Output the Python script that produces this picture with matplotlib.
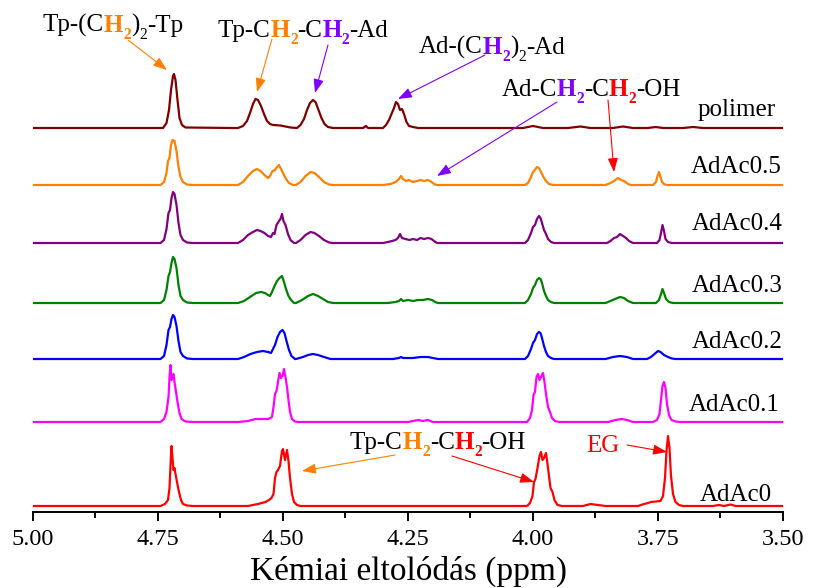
import matplotlib
matplotlib.use('Agg')
import matplotlib.pyplot as plt
from matplotlib.transforms import offset_copy
from matplotlib.ticker import MultipleLocator, FormatStrFormatter

plt.rcParams['font.family'] = ['Liberation Serif', 'DejaVu Serif']

# ---------------- data: (ppm, intensity) ----------------
polimer = [(5.00, 0), (4.760, 0), (4.740, 0), (4.733, 5), (4.728, 18), (4.724, 38), (4.720, 52), (4.718, 54),
           (4.715, 48), (4.711, 28), (4.707, 10), (4.702, 3), (4.695, 0.5), (4.600, 0),
           (4.590, 0), (4.580, 2), (4.572, 7), (4.566, 15), (4.560, 24), (4.555, 29), (4.550, 28), (4.544, 22),
           (4.538, 14), (4.532, 7), (4.526, 4), (4.520, 3), (4.505, 2.5), (4.495, 1.5), (4.485, 0.5),
           (4.472, 0), (4.465, 3), (4.458, 9), (4.452, 18), (4.446, 25), (4.440, 28), (4.435, 26), (4.429, 18),
           (4.423, 10), (4.417, 4), (4.410, 1), (4.400, 0),
           (4.340, 0), (4.334, 2), (4.330, 0),
           (4.300, 0), (4.294, 3), (4.288, 8), (4.283, 14), (4.278, 20), (4.274, 26), (4.270, 24), (4.266, 18),
           (4.262, 19), (4.258, 14), (4.253, 6), (4.248, 2), (4.240, 1), (4.230, 0),
           (4.020, 0), (4.000, 2), (3.980, 0), (3.930, 0), (3.905, 1.5), (3.885, 0), (3.840, 0), (3.820, 1.5),
           (3.800, 0), (3.770, 0), (3.755, 1), (3.740, 0), (3.700, 0), (3.680, 1), (3.660, 0), (3.500, 0)]

adac05 = [(5.00, 0), (4.745, 0), (4.738, 3), (4.733, 12), (4.730, 24), (4.727, 27), (4.724, 40), (4.721, 45),
          (4.717, 44), (4.713, 34), (4.709, 18), (4.705, 8), (4.700, 3), (4.692, 0.5), (4.680, 0),
          (4.590, 0), (4.580, 3), (4.570, 9), (4.560, 14), (4.552, 16), (4.545, 14), (4.537, 10), (4.530, 7),
          (4.526, 9), (4.521, 14), (4.516, 15), (4.512, 18), (4.508, 20), (4.505, 17), (4.500, 12), (4.494, 6),
          (4.488, 2), (4.480, 0),
          (4.474, 0), (4.465, 3), (4.455, 9), (4.445, 13), (4.437, 12), (4.428, 8), (4.418, 3), (4.408, 0.5),
          (4.400, 0),
          (4.300, 0), (4.285, 1), (4.275, 3), (4.268, 6), (4.264, 9), (4.260, 6), (4.254, 4), (4.248, 5),
          (4.240, 3), (4.232, 4), (4.225, 5), (4.218, 4), (4.210, 5), (4.203, 3), (4.198, 1), (4.192, 0),
          (4.016, 0), (4.010, 2), (4.005, 7), (4.000, 13), (3.995, 16), (3.992, 18), (3.988, 17), (3.984, 13),
          (3.979, 8), (3.974, 4), (3.968, 1), (3.960, 0),
          (3.855, 0), (3.845, 2), (3.838, 4), (3.830, 7), (3.824, 5), (3.818, 4), (3.810, 1), (3.804, 0),
          (3.760, 0), (3.754, 3), (3.751, 9), (3.748, 13), (3.745, 8), (3.742, 3), (3.737, 0.5), (3.730, 0),
          (3.500, 0)]

adac04 = [(5.00, 0), (4.745, 0), (4.738, 3), (4.733, 14), (4.729, 30), (4.726, 33), (4.723, 45), (4.720, 51),
          (4.717, 49), (4.713, 38), (4.709, 20), (4.705, 8), (4.700, 3), (4.692, 0.5), (4.680, 0),
          (4.590, 0), (4.580, 3), (4.570, 8), (4.560, 11), (4.552, 13), (4.545, 12), (4.537, 10), (4.530, 7),
          (4.524, 6), (4.520, 10), (4.517, 9), (4.513, 18), (4.508, 22), (4.505, 24), (4.502, 29), (4.499, 22),
          (4.495, 18), (4.490, 9), (4.485, 3), (4.478, 0),
          (4.474, 0), (4.465, 3), (4.455, 8), (4.445, 11), (4.437, 10), (4.428, 7), (4.418, 3), (4.408, 0.5),
          (4.400, 0),
          (4.300, 0), (4.290, 1), (4.282, 2), (4.275, 3), (4.270, 5), (4.266, 9), (4.262, 5), (4.255, 4),
          (4.247, 3), (4.240, 4), (4.232, 3), (4.225, 5), (4.218, 4), (4.210, 5), (4.203, 4), (4.198, 2),
          (4.192, 0),
          (4.016, 0), (4.010, 3), (4.004, 10), (4.000, 16), (3.996, 18), (3.992, 24), (3.988, 27), (3.985, 25),
          (3.982, 20), (3.978, 13), (3.974, 9), (3.970, 4), (3.964, 1), (3.958, 0),
          (3.852, 0), (3.845, 2), (3.838, 5), (3.832, 6), (3.826, 9), (3.820, 7), (3.814, 5), (3.808, 2),
          (3.800, 0),
          (3.752, 0), (3.747, 3), (3.744, 10), (3.741, 18), (3.738, 12), (3.735, 4), (3.730, 1), (3.722, 0),
          (3.500, 0)]

adac03 = [(5.00, 0), (4.745, 0), (4.738, 3), (4.733, 13), (4.729, 27), (4.726, 31), (4.723, 40), (4.720, 46),
          (4.717, 44), (4.713, 35), (4.709, 18), (4.705, 7), (4.700, 3), (4.692, 0.5), (4.680, 0),
          (4.590, 0), (4.578, 2), (4.566, 6), (4.554, 10), (4.544, 11), (4.536, 10), (4.530, 8), (4.526, 7),
          (4.522, 11), (4.517, 17), (4.512, 22), (4.507, 25), (4.502, 27), (4.498, 21), (4.494, 14), (4.489, 7),
          (4.484, 3), (4.478, 0),
          (4.474, 0), (4.462, 3), (4.450, 7), (4.440, 9), (4.430, 7), (4.420, 4), (4.410, 1), (4.400, 0),
          (4.290, 0), (4.275, 1), (4.268, 2), (4.264, 4), (4.260, 2), (4.250, 3), (4.240, 2), (4.230, 3),
          (4.220, 3), (4.210, 4), (4.202, 3), (4.196, 1), (4.190, 0),
          (4.016, 0), (4.010, 3), (4.004, 9), (4.000, 15), (3.996, 18), (3.992, 23), (3.988, 25), (3.985, 24),
          (3.982, 20), (3.978, 12), (3.974, 7), (3.970, 3), (3.964, 1), (3.958, 0),
          (3.855, 0), (3.845, 2), (3.836, 4), (3.826, 6), (3.818, 5), (3.810, 2), (3.800, 0),
          (3.754, 0), (3.748, 3), (3.744, 9), (3.741, 14), (3.738, 10), (3.734, 4), (3.728, 1), (3.720, 0),
          (3.500, 0)]

adac02 = [(5.00, 0), (4.745, 0), (4.738, 3), (4.733, 14), (4.729, 29), (4.726, 32), (4.723, 40), (4.720, 44),
          (4.717, 42), (4.713, 33), (4.709, 18), (4.705, 7), (4.700, 3), (4.692, 0.5), (4.680, 0),
          (4.590, 0), (4.578, 2), (4.565, 5), (4.552, 7), (4.540, 8), (4.530, 7), (4.524, 6), (4.520, 10),
          (4.516, 14), (4.511, 22), (4.506, 27), (4.501, 29), (4.497, 26), (4.493, 18), (4.488, 9), (4.483, 3),
          (4.476, 0),
          (4.474, 0), (4.460, 2), (4.450, 4), (4.440, 5), (4.430, 4), (4.418, 2), (4.405, 0),
          (4.280, 0), (4.268, 1), (4.264, 2), (4.260, 1), (4.240, 1), (4.225, 2), (4.210, 2), (4.200, 1),
          (4.190, 0),
          (4.016, 0), (4.010, 3), (4.004, 10), (4.000, 16), (3.996, 19), (3.992, 25), (3.988, 27), (3.985, 26),
          (3.982, 21), (3.978, 13), (3.974, 7), (3.970, 3), (3.964, 1), (3.958, 0),
          (3.855, 0), (3.840, 2), (3.826, 3), (3.812, 2), (3.800, 0),
          (3.772, 0), (3.764, 2), (3.757, 5), (3.750, 8), (3.745, 7), (3.738, 4), (3.730, 2), (3.722, 0.5),
          (3.715, 0), (3.500, 0)]

adac01 = [(5.00, 0), (4.745, 0), (4.738, 3), (4.733, 10), (4.729, 25), (4.727, 45), (4.725, 57), (4.723, 42),
          (4.721, 46), (4.719, 48), (4.717, 40), (4.714, 30), (4.711, 20), (4.707, 9), (4.703, 3), (4.695, 0.5),
          (4.680, 0),
          (4.590, 0), (4.570, 1), (4.555, 3), (4.540, 3), (4.530, 3), (4.525, 4), (4.522, 5), (4.519, 15),
          (4.516, 28), (4.513, 31), (4.510, 40), (4.507, 49), (4.504, 44), (4.501, 46), (4.498, 53), (4.495, 45),
          (4.492, 35), (4.489, 22), (4.486, 10), (4.482, 3), (4.476, 0.5), (4.470, 0),
          (4.250, 0), (4.240, 1), (4.230, 2), (4.220, 1), (4.210, 2), (4.200, 0),
          (4.012, 0), (4.006, 4), (4.002, 12), (3.999, 27), (3.996, 30), (3.993, 45), (3.990, 48), (3.987, 42),
          (3.984, 45), (3.980, 49), (3.977, 40), (3.974, 28), (3.970, 15), (3.966, 10), (3.962, 4), (3.956, 1),
          (3.948, 0),
          (3.850, 0), (3.835, 2), (3.822, 3), (3.812, 2), (3.800, 0),
          (3.760, 0), (3.752, 2), (3.747, 8), (3.744, 22), (3.741, 36), (3.738, 40), (3.735, 34), (3.732, 18),
          (3.728, 7), (3.723, 2), (3.715, 0.5), (3.705, 0), (3.500, 0)]

adac0 = [(5.00, 0), (4.745, 0), (4.736, 2), (4.730, 6), (4.727, 18), (4.725, 40), (4.723, 60), (4.721, 48),
         (4.719, 36), (4.717, 38), (4.715, 32), (4.712, 24), (4.708, 14), (4.704, 6), (4.700, 2), (4.692, 0.5),
         (4.680, 0),
         (4.570, 0), (4.550, 2), (4.535, 4), (4.528, 6), (4.523, 8), (4.519, 12), (4.516, 28), (4.513, 34),
         (4.510, 36), (4.506, 40), (4.502, 55), (4.500, 57), (4.496, 46), (4.492, 56), (4.489, 45), (4.486, 28),
         (4.482, 12), (4.478, 4), (4.472, 1), (4.465, 0),
         (4.012, 0), (4.006, 3), (4.001, 10), (3.998, 24), (3.995, 27), (3.991, 38), (3.987, 50), (3.984, 54),
         (3.981, 46), (3.978, 48), (3.974, 53), (3.971, 42), (3.968, 30), (3.965, 18), (3.961, 14), (3.957, 6),
         (3.951, 1), (3.942, 0),
         (3.900, 0), (3.885, 2), (3.870, 1), (3.855, 0),
         (3.790, 0), (3.778, 2), (3.770, 3), (3.764, 4), (3.745, 5), (3.740, 10), (3.736, 28), (3.733, 55),
         (3.730, 70), (3.727, 58), (3.724, 30), (3.720, 12), (3.715, 4), (3.708, 1), (3.700, 0),
         (3.640, 0), (3.628, 1), (3.618, 0), (3.605, 1.5), (3.595, 0), (3.500, 0)]

spectra = [polimer, adac05, adac04, adac03, adac02, adac01, adac0]
names = ['polimer', 'AdAc0.5', 'AdAc0.4', 'AdAc0.3', 'AdAc0.2', 'AdAc0.1', 'AdAc0']
colors = ['#800000', '#FF8000', '#800080', '#008000', '#0000FF', '#FF00FF', '#FF0000']
offsets = [384, 327, 269, 209, 153, 90, 6]
label_x = [3.514, 3.502, 3.500, 3.500, 3.500, 3.506, 3.522]
label_y = [396, 339, 282, 220, 164, 101, 11]

xticks = [5.00, 4.75, 4.50, 4.25, 4.00, 3.75, 3.50]
xlabel = 'Kémiai eltolódás (ppm)'

ORANGE = '#FF8000'
VIOLET = '#8000FF'
RED = '#FF0000'
K = 'black'

# annotation texts: pieces (text, colour, bold, subscript), centre x (ppm), baseline level
ann_texts = [
    ([('Tp-(C', K, 0, 0), ('H', ORANGE, 1, 0), ('2', ORANGE, 1, 1), (')', K, 0, 0), ('2', K, 0, 1),
      ('-Tp', K, 0, 0)], (4.840, 480)),
    ([('Tp-C', K, 0, 0), ('H', ORANGE, 1, 0), ('2', ORANGE, 1, 1), ('-C', K, 0, 0), ('H', VIOLET, 1, 0),
      ('2', VIOLET, 1, 1), ('-Ad', K, 0, 0)], (4.460, 475)),
    ([('Ad-(C', K, 0, 0), ('H', VIOLET, 1, 0), ('2', VIOLET, 1, 1), (')', K, 0, 0), ('2', K, 0, 1),
      ('-Ad', K, 0, 0)], (4.082, 458)),
    ([('Ad-C', K, 0, 0), ('H', VIOLET, 1, 0), ('2', VIOLET, 1, 1), ('-C', K, 0, 0), ('H', RED, 1, 0),
      ('2', RED, 1, 1), ('-OH', K, 0, 0)], (3.884, 416)),
    ([('Tp-C', K, 0, 0), ('H', ORANGE, 1, 0), ('2', ORANGE, 1, 1), ('-C', K, 0, 0), ('H', RED, 1, 0),
      ('2', RED, 1, 1), ('-OH', K, 0, 0)], (4.190, 63)),
    ([('EG', RED, 0, 0)], (3.860, 60)),
]
# arrows: start (ppm, level), end (ppm, level), colour
arrows = [
    ((4.810, 472), (4.732, 442), ORANGE),
    ((4.522, 473), (4.552, 420), ORANGE),
    ((4.410, 467), (4.436, 419), VIOLET),
    ((4.096, 457), (4.270, 413), VIOLET),
    ((3.952, 410), (4.192, 336), VIOLET),
    ((3.850, 412), (3.838, 340), RED),
    ((4.276, 57), (4.462, 41), ORANGE),
    ((4.162, 56), (3.998, 30), RED),
    ((3.812, 67), (3.732, 60), RED),
]

# ---------------- figure ----------------
fig = plt.figure(figsize=(8.13, 5.88), dpi=100)
ax = fig.add_axes([33 / 813, 76 / 588, 750 / 813, 512 / 588])
renderer = fig.canvas.get_renderer()

FS = 18
SUB_SCALE = 0.62
SUB_DROP = 7  # pixels

for spec, name, col, off, lx, ly in zip(spectra, names, colors, offsets, label_x, label_y):
    ppm = [p for p, _ in spec]
    val = [v + off for _, v in spec]
    ax.plot(ppm, val, color=col, lw=1.6, solid_joinstyle='round')
    ax.text(lx, ly, name, ha='right', va='baseline', fontsize=FS, color='black')


def rich_text(pieces, x, y):
    arts, widths = [], []
    for txt, col, bold, sub in pieces:
        t = ax.text(x, y, txt, fontsize=FS * SUB_SCALE if sub else FS, color=col,
                    fontweight='bold' if bold else 'normal', ha='left', va='baseline')
        arts.append((t, sub))
        widths.append(t.get_window_extent(renderer).width)
    dx = -sum(widths) / 2
    for (t, sub), w in zip(arts, widths):
        t.set_transform(offset_copy(ax.transData, fig=fig, x=dx, y=-SUB_DROP if sub else 0, units='dots'))
        dx += w


for pieces, (x, y) in ann_texts:
    rich_text(pieces, x, y)

for start, end, col in arrows:
    ax.annotate('', xy=end, xytext=start, xycoords='data', textcoords='data',
                arrowprops=dict(arrowstyle='-|>,head_length=0.6,head_width=0.22', color=col, lw=0.8,
                                mutation_scale=14, shrinkA=0, shrinkB=0))

ax.set_xlim(5.0, 3.5)
ax.set_ylim(0, 512)
for s in ['top', 'left', 'right']:
    ax.spines[s].set_visible(False)
ax.spines['bottom'].set_linewidth(1.4)
ax.set_yticks([])
ax.set_xticks(xticks)
ax.xaxis.set_major_formatter(FormatStrFormatter('%.2f'))
ax.xaxis.set_minor_locator(MultipleLocator(0.125))
ax.tick_params(axis='x', which='major', direction='out', length=6.5, width=1.4, labelsize=17.5, pad=6)
ax.tick_params(axis='x', which='minor', direction='out', length=4, width=1.4)
ax.set_xlabel(xlabel, fontsize=24, labelpad=4)
ax.patch.set_visible(False)

fig.savefig('out.png', dpi=100)
